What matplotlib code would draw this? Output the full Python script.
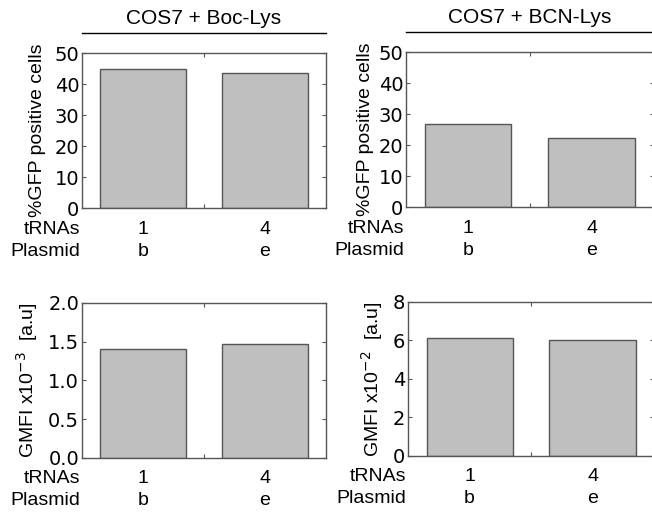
import matplotlib
matplotlib.use("Agg")
import matplotlib.pyplot as plt
from matplotlib.transforms import blended_transform_factory, offset_copy

# ─── Daten ────────────────────────────────────────────────────────────────────
positions = [1, 2]
trnas = ["1", "4"]
plasmids = ["b", "e"]

gfp_boc = [45.0, 43.7]
gfp_bcn = [26.8, 22.2]
gmfi_boc = [1.40, 1.47]   # x10^-3
gmfi_bcn = [6.15, 6.05]   # x10^-2

titles = ["COS7 + Boc-Lys", "COS7 + BCN-Lys"]

plt.rcParams["font.family"] = ["Liberation Sans", "DejaVu Sans"]

fig = plt.figure(figsize=(6.52, 5.15), dpi=100)

rects = [
    [0.1258, 0.596, 0.374, 0.301],
    [0.6227, 0.598, 0.380, 0.301],
    [0.1258, 0.1107, 0.374, 0.301],
    [0.626, 0.1146, 0.377, 0.299],
]
werte = [gfp_boc, gfp_bcn, gmfi_boc, gmfi_bcn]
ylims = [(0, 50), (0, 50), (0, 2.0), (0, 8)]
yticks = [[0, 10, 20, 30, 40, 50], [0, 10, 20, 30, 40, 50],
          [0.0, 0.5, 1.0, 1.5, 2.0], [0, 2, 4, 6, 8]]
yfmt = ["{:.0f}", "{:.0f}", "{:.1f}", "{:.0f}"]
ylabels = ["%GFP positive cells", "%GFP positive cells",
           r"GMFI x10$^{-3}$  [a.u]", r"GMFI x10$^{-2}$  [a.u]"]
labelpads = [6, 3, 6, 6]

for i, (rect, w) in enumerate(zip(rects, werte)):
    ax = fig.add_axes(rect)
    ax.bar(positions, w, width=0.7, color="#bfbfbf", edgecolor="#555555",
           linewidth=1.0, zorder=2)
    ax.set_xlim(0.5, 2.5)
    ax.set_ylim(*ylims[i])
    ax.set_yticks(yticks[i])
    ax.set_yticklabels([yfmt[i].format(t) for t in yticks[i]],
                       fontsize=14, family="DejaVu Sans")
    ax.set_xticks([1.5])
    ax.set_xticklabels([])
    ax.tick_params(direction="in", length=3, width=0.8, color="#555555",
                   top=True, right=True, pad=2)
    for sp in ax.spines.values():
        sp.set_color("#555555")
        sp.set_linewidth(1.0)
    ax.set_ylabel(ylabels[i], fontsize=14, labelpad=labelpads[i])

    # tRNAs / Plasmid-Zeilen
    tr = blended_transform_factory(ax.transData, ax.transAxes)
    for dy, name, labs in [(-21, "tRNAs", trnas), (-43, "Plasmid", plasmids)]:
        t_row = offset_copy(tr, fig=fig, x=0, y=dy, units="dots")
        for p, lab in zip(positions, labs):
            ax.text(p, 0, lab, transform=t_row, ha="center", va="center",
                    fontsize=14)
        t_name = offset_copy(ax.transAxes, fig=fig, x=-2, y=dy, units="dots")
        ax.text(0, 0, name, transform=t_name, ha="right", va="center",
                fontsize=14)

    if i < 2:
        ax.plot([0, 1], [1.13, 1.13], transform=ax.transAxes, color="black",
                linewidth=1.0, clip_on=False)
        ax.text(0.5, 1.16, titles[i], transform=ax.transAxes, ha="center",
                va="bottom", fontsize=15)

fig.savefig("out.png", dpi=100)
